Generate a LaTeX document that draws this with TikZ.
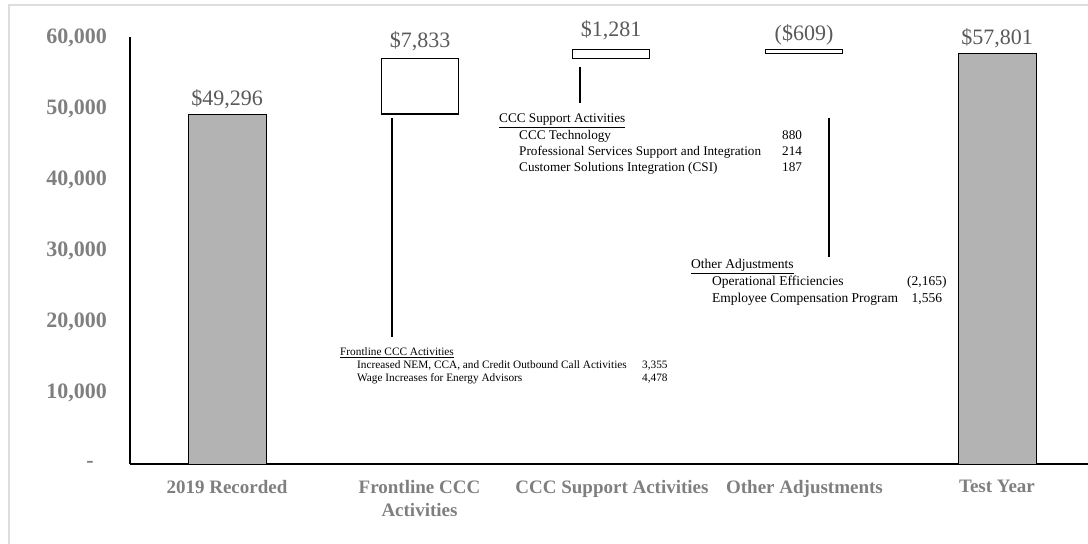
\documentclass[tikz,border=0pt]{standalone}
\usepackage{fontspec}
\setmainfont{Liberation Serif}
\usetikzlibrary{positioning}
\definecolor{barfill}{HTML}{B3B3B3}
\definecolor{axisgray}{HTML}{7F7F7F}
\definecolor{valgray}{HTML}{595959}
\definecolor{framegray}{HTML}{DDDDDD}
\begin{document}
\begin{tikzpicture}[x=1pt,y=1pt,
  bar/.style={draw=black,line width=0.9pt,fill=barfill,minimum width=78pt,inner sep=0pt,outer sep=0pt,anchor=south},
  stepbox/.style={draw=black,line width=1.2pt,fill=white,minimum width=77pt,inner sep=0pt,outer sep=0pt,anchor=south},
  value/.style={font=\fontsize{22}{26}\selectfont,text=valgray,inner sep=0pt},
  ticklabel/.style={font=\bfseries\fontsize{22}{26}\selectfont,text=axisgray,inner sep=0pt,anchor=east},
  catlabel/.style={font=\bfseries\fontsize{19}{23}\selectfont,text=axisgray,inner sep=0pt,anchor=north,align=center},
  note/.style={inner sep=0pt,anchor=base west},
  leader/.style={line width=2pt},
  axis/.style={line width=1.3pt}]
\useasboundingbox (0,0) rectangle (1088,544);
% Rahmen
\draw[framegray,line width=1.2pt] (9,0) -- (9,539) -- (1088,539);
% Achsen
\coordinate (origin) at (130,80);
\draw[axis] (origin) -- (130,507);
\draw[axis] (origin) -- (1088,80);
\foreach \v in {1,...,6}
  \node[ticklabel] (tick\v) at (107,{80+71*\v}) {\v0,000};
\node[ticklabel,anchor=center] (tick0) at (90,80) {-};
% Balken und Stufen
\node[bar,minimum height=350pt] (bar2019) at (227,80) {};
\node[stepbox,minimum height=55.6pt] (boxFront) at (420,430) {};
\node[stepbox,minimum height=9.1pt] (boxSupport) at (611,485.6) {};
\node[stepbox,minimum height=4.3pt] (boxOther) at (804,490.4) {};
\node[bar,minimum height=410.4pt] (barTest) at (997,80) {};
\node[value,above=5pt of bar2019] (val2019) {\$49,296};
\node[value,above=7pt of boxFront] (valFront) {\$7,833};
\node[value,above=9pt of boxSupport] (valSupport) {\$1,281};
\node[value,above=4pt of boxOther] (valOther) {(\$609)};
\node[value,above=6pt of barTest] (valTest) {\$57,801};
% Kategorien
\foreach \x/\xtext [count=\i] in {227/2019 Recorded,419.5/Frontline CCC\\Activities,612/CCC Support Activities,804.5/Other Adjustments,997/Test Year}
  \node[catlabel] (cat\i) at (\x,64) {\xtext};
% Erlaeuterungen
\node[note,font=\fontsize{11.3}{12.6}\selectfont] (annFront) at (340,188)
  {\begin{tabular}[t]{@{}p{17pt}@{}p{285pt}@{}l@{}}
   \multicolumn{3}{@{}l@{}}{\underline{Frontline CCC Activities}}\\
   & Increased NEM, CCA, and Credit Outbound Call Activities & 3,355\\
   & Wage Increases for Energy Advisors & 4,478
   \end{tabular}};
\node[note,font=\fontsize{13.2}{16}\selectfont] (annSupport) at (499,421)
  {\begin{tabular}[t]{@{}p{20pt}@{}p{263pt}@{}l@{}}
   \multicolumn{3}{@{}l@{}}{\underline{CCC Support Activities}}\\
   & CCC Technology & 880\\
   & Professional Services Support and Integration & 214\\
   & Customer Solutions Integration (CSI) & 187
   \end{tabular}};
\node[note,font=\fontsize{13.5}{17}\selectfont] (annOther) at (691,275)
  {\begin{tabular}[t]{@{}p{21pt}@{}p{195pt}@{}r@{}}
   \multicolumn{3}{@{}l@{}}{\underline{Other Adjustments}}\\
   & Operational Efficiencies & (2,165)\\
   & Employee Compensation Program & 1,556\phantom{)}
   \end{tabular}};
\draw[leader] ([xshift=10pt,yshift=-4pt]boxFront.south west) -- ++(0,-219);
\draw[leader] ([xshift=7pt,yshift=-8.6pt]boxSupport.south west) -- ++(0,-36);
\draw[leader] ([xshift=63pt,yshift=-64.4pt]boxOther.south west) -- ++(0,-139);
\end{tikzpicture}
\end{document}
